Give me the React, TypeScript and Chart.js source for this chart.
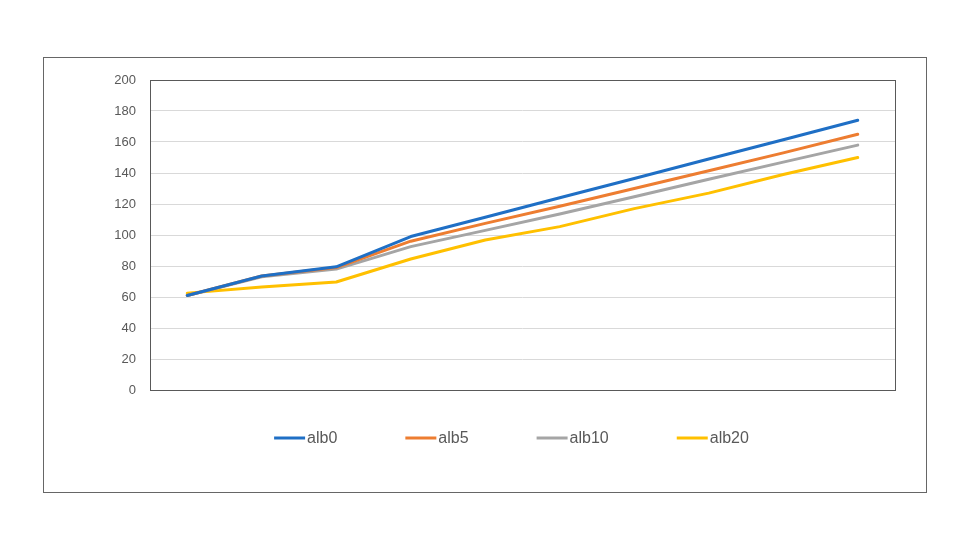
import React, { useEffect, useRef } from "react";
import { Chart, registerables } from "chart.js";

Chart.register(...registerables);

const categories = ["1", "2", "3", "4", "5", "6", "7", "8", "9", "10"];
const alb0 = [61, 73.5, 79.5, 99, 111.5, 124, 136.5, 149, 161.5, 174];
const alb5 = [61, 73.5, 79, 96, 107.5, 118.5, 130, 141.5, 153, 165];
const alb10 = [61, 73, 78, 92.5, 103, 113.5, 124.7, 136, 147, 158];
const alb20 = [62.5, 66.5, 69.7, 84.5, 96.8, 105.4, 117, 127, 139, 150];
const seriesNames = ["alb0", "alb5", "alb10", "alb20"];
const seriesColors = ["#1F6FC5", "#ED7D31", "#A5A5A5", "#FFC000"];
const yTicks = [0, 20, 40, 60, 80, 100, 120, 140, 160, 180, 200];

const FONT = "'Liberation Sans', Arial, sans-serif";
const TEXT = "#595959";

const framePlugin = {
  id: "frame",
  beforeDatasetsDraw(chart: any) {
    const { ctx, chartArea } = chart;
    ctx.save();
    ctx.strokeStyle = "#595959";
    ctx.lineWidth = 1;
    ctx.strokeRect(
      Math.round(chartArea.left) + 0.5,
      Math.round(chartArea.top) + 0.5,
      Math.round(chartArea.right - chartArea.left),
      Math.round(chartArea.bottom - chartArea.top)
    );
    ctx.restore();
  },
};

const legendPlugin = {
  id: "customLegend",
  afterDraw(chart: any) {
    const { ctx } = chart;
    const ds = chart.data.datasets;
    ctx.save();
    ctx.font = `16px ${FONT}`;
    ctx.textBaseline = "middle";
    ctx.textAlign = "left";
    const lineLen = 31;
    const textGap = 2;
    const itemGap = 68;
    const widths = ds.map((d: any) => lineLen + textGap + ctx.measureText(d.label).width);
    const total = widths.reduce((a: number, b: number) => a + b, 0) + itemGap * (ds.length - 1);
    let x = 467.5 - total / 2;
    const y = 380;
    ds.forEach((d: any, i: number) => {
      ctx.strokeStyle = d.borderColor;
      ctx.lineWidth = 3;
      ctx.lineCap = "butt";
      ctx.beginPath();
      ctx.moveTo(x, y);
      ctx.lineTo(x + lineLen, y);
      ctx.stroke();
      ctx.fillStyle = TEXT;
      ctx.fillText(d.label, x + lineLen + textGap, y + 1);
      x += widths[i] + itemGap;
    });
    ctx.restore();
  },
};

export default function App() {
  const ref = useRef<HTMLCanvasElement | null>(null);
  useEffect(() => {
    if (!ref.current) return;
    const data = [alb0, alb5, alb10, alb20];
    const chart = new Chart(ref.current, {
      type: "line",
      data: {
        labels: categories,
        datasets: seriesNames.map((name, i) => ({
          label: name,
          data: data[i],
          borderColor: seriesColors[i],
          backgroundColor: seriesColors[i],
          borderWidth: 3,
          pointRadius: 0,
          tension: 0,
          fill: false,
          borderCapStyle: "round",
          borderJoinStyle: "round",
        })),
      },
      options: {
        animation: false,
        responsive: false,
        maintainAspectRatio: false,
        layout: { padding: { left: 0, top: 22, right: 31, bottom: 102 } },
        plugins: { legend: { display: false }, tooltip: { enabled: false } },
        scales: {
          x: { display: false, offset: true },
          y: {
            min: 0,
            max: 200,
            afterFit(scale: any) {
              scale.width = 106;
            },
            afterBuildTicks(scale: any) {
              scale.ticks = yTicks.map((v) => ({ value: v }));
            },
            border: { display: false },
            grid: { color: "#D9D9D9", lineWidth: 1, drawTicks: false },
            ticks: {
              padding: 14,
              color: TEXT,
              font: { family: FONT, size: 13 },
            },
          },
        },
      },
      plugins: [framePlugin, legendPlugin],
    } as any);
    return () => chart.destroy();
  }, []);

  return (
    <div
      style={{
        position: "absolute",
        left: 43,
        top: 57,
        width: 884,
        height: 436,
        boxSizing: "border-box",
        border: "1px solid #666666",
        background: "#ffffff",
      }}
    >
      <canvas ref={ref} width={882} height={434} style={{ display: "block", width: 882, height: 434 }} />
    </div>
  );
}
